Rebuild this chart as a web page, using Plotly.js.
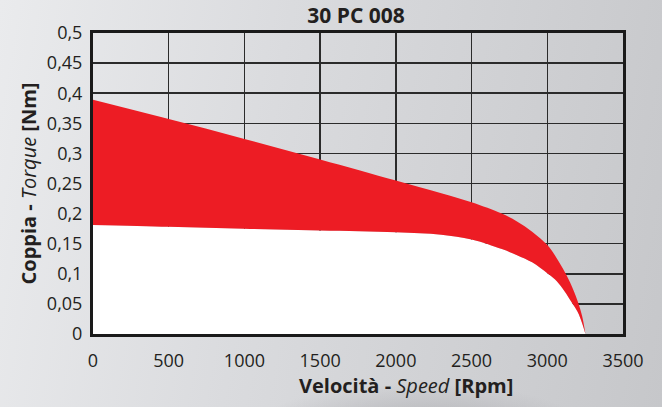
<!DOCTYPE html>
<html><head><meta charset="utf-8">
<script src="https://cdn.plot.ly/plotly-3.0.1.min.js"></script>
<style>
html,body{margin:0;padding:0;}
body{width:662px;height:407px;overflow:hidden;
background:
 radial-gradient(ellipse 230px 70px at 420px 435px, rgba(140,140,145,0.5), rgba(140,140,145,0) 75%),
 linear-gradient(100deg,#eaebed 0%,#dadbde 40%,#c6c7ca 100%);}
#chart{width:662px;height:407px;}
</style></head><body>
<div id="chart"></div>
<script>
const speedRpm    = [0,500,1000,1500,2000,2300,2500,2700,2800,2900,3000,3050,3100,3150,3200,3230,3252];
const torqueLower = [0.181,0.178,0.175,0.172,0.169,0.165,0.157,0.141,0.131,0.119,0.101,0.091,0.076,0.057,0.037,0.018,0];
const torqueUpper = [0.389,0.357,0.324,0.290,0.255,0.234,0.219,0.200,0.187,0.170,0.148,0.131,0.110,0.086,0.055,0.030,0];
const xTickVals = [0,500,1000,1500,2000,2500,3000,3500];
const yTickVals = [0,0.05,0.1,0.15,0.2,0.25,0.3,0.35,0.4,0.45,0.5];
const yTickText = ["0","0,05","0,1","0,15","0,2","0,25","0,3","0,35","0,4","0,45","0,5"];
const xTitle = '<b>Velocità - </b><i>Speed</i><b> [Rpm]</b>';
const yTitle = '<b>Coppia - </b><i>Torque</i><b> [Nm]</b>';

const font = "Open Sans, sans-serif";
const traces = [
 {x: speedRpm, y: torqueLower, mode:'lines', line:{width:0, shape:'spline', smoothing:1}, fill:'tozeroy', fillcolor:'#ffffff', hoverinfo:'skip', showlegend:false},
 {x: speedRpm, y: torqueUpper, mode:'lines', line:{width:0, shape:'spline', smoothing:1}, fill:'tonexty', fillcolor:'#ed1c24', hoverinfo:'skip', showlegend:false}
];
const layout = {
 width:662, height:407,
 paper_bgcolor:'rgba(0,0,0,0)', plot_bgcolor:'rgba(0,0,0,0)',
 margin:{l:93, r:39, t:33, b:73},
 title:{text:'<b>30 PC 008</b>', x:356/662, xref:'container', xanchor:'center', y:1-16/407, yref:'container', yanchor:'middle', font:{family:font, size:21, color:'#231f20'}},
 font:{family:font, color:'#231f20'},
 xaxis:{range:[0,3500], tickvals:xTickVals, ticktext:xTickVals.map(String), showgrid:true, gridcolor:'#2b2b2b', gridwidth:1.5,
  showline:true, mirror:true, linecolor:'#1a1a1a', linewidth:3, zeroline:false, ticks:'outside', ticklen:8, tickcolor:'rgba(0,0,0,0)',
  tickfont:{size:18, color:'#231f20'}, layer:'above traces'},
 yaxis:{range:[0,0.5], tickvals:yTickVals, ticktext:yTickText, showgrid:true, gridcolor:'#2b2b2b', gridwidth:1.5,
  showline:true, mirror:true, linecolor:'#1a1a1a', linewidth:3, zeroline:false, ticks:'outside', ticklen:4, tickcolor:'rgba(0,0,0,0)',
  tickfont:{size:18, color:'#231f20'}, layer:'above traces',
  title:{text:yTitle, font:{size:20, color:'#231f20'}, standoff:5}},
 annotations:[{text:xTitle, xref:'paper', yref:'paper', x:(406-93)/530, y:(334-385)/301, xanchor:'center', yanchor:'middle', showarrow:false, font:{family:font, size:20, color:'#231f20'}}]
};
Plotly.newPlot('chart', traces, layout, {staticPlot:true});
</script>
</body></html>
